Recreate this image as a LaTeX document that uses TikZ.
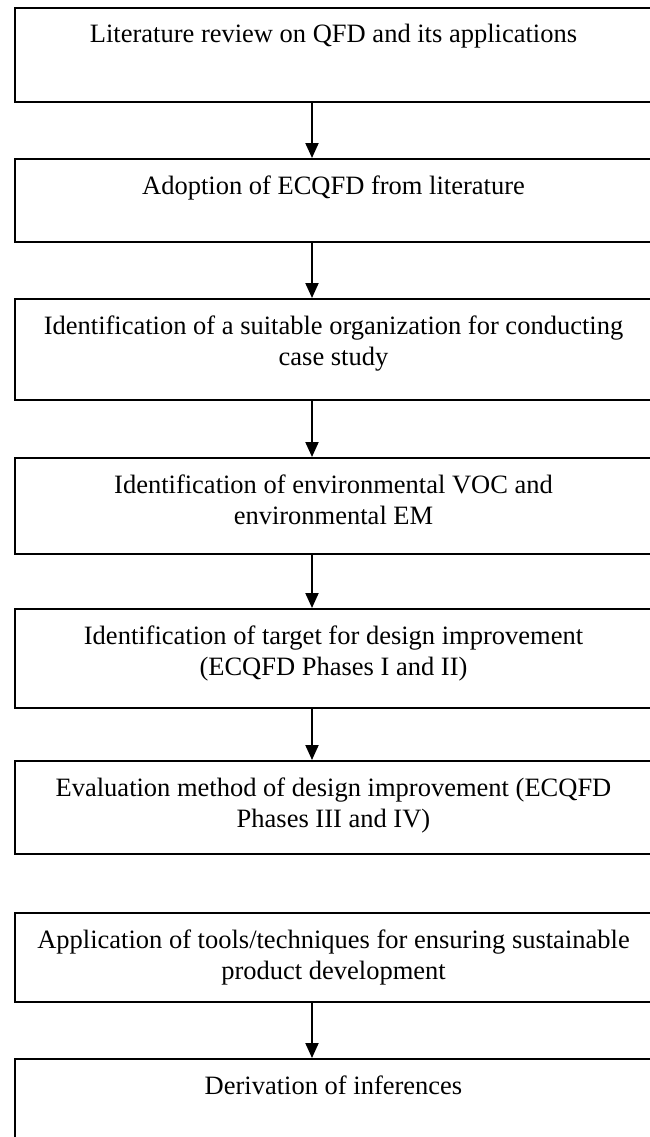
\documentclass[tikz,border=0pt]{standalone}
\usepackage{fontspec}
\setmainfont{Liberation Serif}
\usepackage{tikz}
\usetikzlibrary{arrows.meta}

\newcommand{\stagetext}[2]{\parbox[c][#1][t]{620pt}{\centering
    \fontsize{26.5}{31}\selectfont\rule{0pt}{35pt}#2}}

\begin{document}
\begin{tikzpicture}[x=1pt,y=-1pt,
        stage/.style={draw,line width=2pt,inner sep=0pt,anchor=north west,
            minimum width=637pt},
        flow/.style={line width=2pt,-{Triangle[length=15pt,width=13pt]}}]
        \useasboundingbox (0,0) rectangle (649,1137);

        % Stages
        \node [stage] (s1) at (14,7)
            {\stagetext{94pt}{Literature review on QFD and its applications}};
        \node [stage] (s2) at (14,158)
            {\stagetext{83pt}{Adoption of ECQFD from literature}};
        \node [stage] (s3) at (14,298)
            {\stagetext{101pt}{Identification of a suitable organization for conducting\\ case study}};
        \node [stage] (s4) at (14,457)
            {\stagetext{96pt}{Identification of environmental VOC and\\ environmental EM}};
        \node [stage] (s5) at (14,608)
            {\stagetext{99pt}{Identification of target for design improvement\\ (ECQFD Phases I and II)}};
        \node [stage] (s6) at (14,760)
            {\stagetext{93pt}{Evaluation method of design improvement (ECQFD\\ Phases III and IV)}};
        \node [stage] (s7) at (14,912)
            {\stagetext{89pt}{Application of tools/techniques for ensuring sustainable\\ product development}};
        \node [stage] (s8) at (14,1058)
            {\stagetext{100pt}{Derivation of inferences}};

        % Arrows
        \coordinate (ax) at (312,0);
        \draw [flow] (s1.south -| ax) -- (s2.north -| ax);
        \draw [flow] (s2.south -| ax) -- (s3.north -| ax);
        \draw [flow] (s3.south -| ax) -- (s4.north -| ax);
        \draw [flow] (s4.south -| ax) -- (s5.north -| ax);
        \draw [flow] (s5.south -| ax) -- (s6.north -| ax);
        \draw [flow] (s7.south -| ax) -- (s8.north -| ax);
    \end{tikzpicture}
\end{document}
